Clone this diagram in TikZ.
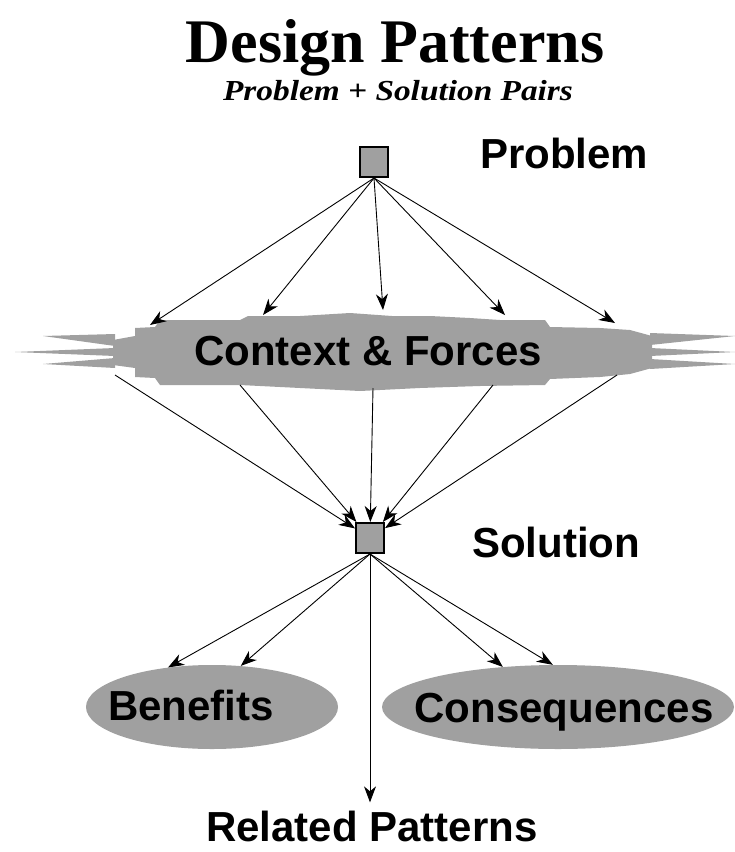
\documentclass[tikz,border=0pt]{standalone}
\usepackage{fontspec}
\setmainfont{Liberation Serif}
\newfontfamily\labelfont{Liberation Sans}
\newfontfamily\subfont[FakeStretch=1.15]{Liberation Serif}
\usetikzlibrary{arrows.meta,shapes.geometric}
\definecolor{patgray}{RGB}{160,160,160}

\def\plist{{(150,325)/t1}, {(263,315)/t2}, {(383,310)/t3}, {(505,315)/t4}, {(615,323)/t5}, {(115,375)/d1}, {(240,385)/d2}, {(373,388)/d3}, {(493,385)/d4}, {(617,375)/d5}}
\tikzstyle{conn} = [draw, line width=0.9pt, -{Stealth[length=16pt,width=12pt,inset=5pt]}]
\tikzstyle{box} = [rectangle, fill=patgray, draw=black, line width=2pt, minimum width=28pt, minimum height=30pt, inner sep=0pt]
\tikzstyle{oval} = [ellipse, fill=patgray, inner sep=0pt]
\tikzstyle{tag} = [font=\labelfont\bfseries\fontsize{42}{42}\selectfont, inner sep=0pt]

\begin{document}
\begin{tikzpicture}[x=1pt, y=-1pt]
  \useasboundingbox (0,0) rectangle (735,852);

  % title
  \node[font=\bfseries\fontsize{62}{62}\selectfont, anchor=base, inner sep=0pt] (title) at (395,62) {Design Patterns};
  \node[font=\subfont\bfseries\itshape\fontsize{29}{29}\selectfont, anchor=base, inner sep=0pt] (subtitle) at (398,100) {Problem + Solution Pairs};

  % context band
  \fill[patgray] (113,340) -- (135,336) -- (135,328) -- (155,327) -- (160,320) -- (240,320) -- (248,316)
    -- (300,316) -- (350,313) -- (392,316) -- (430,316) -- (470,318) -- (500,320) -- (545,320)
    -- (550,327) -- (600,328) -- (630,330) -- (652,336) -- (652,368) -- (630,374) -- (600,377)
    -- (550,379) -- (545,385) -- (480,386) -- (420,388) -- (360,391) -- (300,388) -- (240,385)
    -- (160,385) -- (155,378) -- (135,377) -- (135,368) -- (113,365) -- cycle;
  \fill[patgray] (43,336) -- (115,334) -- (115,346) -- cycle;
  \fill[patgray] (15,352) -- (115,348) -- (115,356) -- cycle;
  \fill[patgray] (43,364) -- (115,358) -- (115,368) -- cycle;
  \fill[patgray] (735,336) -- (650,333) -- (650,345) -- cycle;
  \fill[patgray] (735,352) -- (650,348) -- (650,356) -- cycle;
  \fill[patgray] (735,364) -- (650,359) -- (650,369) -- cycle;
  \node[tag, anchor=base] (ctx) at (368,365) {Context \& Forces};

  % boxes and labels
  \node[box] (prob) at (374,162) {};
  \node[box] (sol) at (370,538) {};
  \node[tag, anchor=base west] (probT) at (480,168) {Problem};
  \node[tag, anchor=base west] (solT) at (472,557) {Solution};

  \node[oval, minimum width=252pt, minimum height=84pt] (ben) at (212,707) {};
  \node[tag, anchor=base] (benT) at (191,720) {Benefits};
  \node[oval, minimum width=352pt, minimum height=84pt] (cons) at (558,707) {};
  \node[tag, anchor=base] (consT) at (564,722) {Consequences};
  \node[tag, anchor=base] (rel) at (372,841) {Related Patterns};

  \foreach \pos/\name in \plist {
    \node[coordinate] (\name) at \pos {};
  }

  \foreach \sink in {t1, t2, t3, t4, t5} {
    \path[conn] (prob.south) -- (\sink);
  }
  \foreach \source in {d1, d2, d3, d4, d5} {
    \path[conn] (\source) -- (sol);
  }
  \foreach \sink in {ben.138, ben.55, cons.144, cons.97} {
    \path[conn] (sol.south) -- (\sink);
  }
  \path[conn, shorten >=8pt] (sol.south) -- (rel.north -| sol.south);
\end{tikzpicture}
\end{document}
